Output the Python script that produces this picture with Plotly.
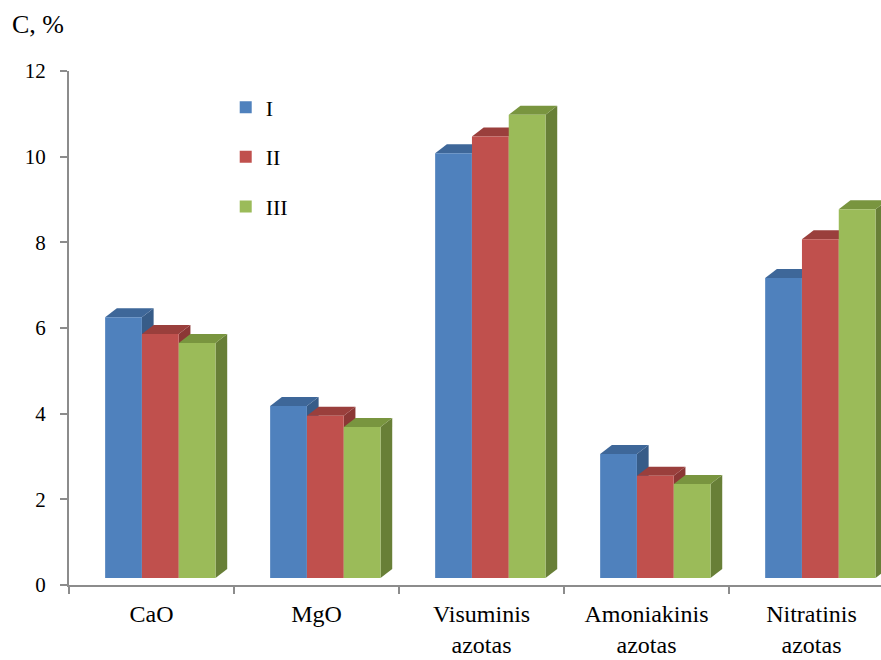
import plotly.graph_objects as go

# Content of elements, % (three variants)
categories = ["CaO", "MgO", "Visuminis<br>azotas", "Amoniakinis<br>azotas", "Nitratinis<br>azotas"]
series_names = ["I", "II", "III"]
values_I = [6.25, 4.18, 10.08, 3.06, 7.17]
values_II = [5.86, 3.95, 10.47, 2.55, 8.07]
values_III = [5.65, 3.69, 10.98, 2.36, 8.77]
y_ticks = [0, 2, 4, 6, 8, 10, 12]

series_values = [values_I, values_II, values_III]

front_colors = ["#4F81BD", "#C0504D", "#9BBB59"]
top_colors = ["#3E6799", "#9A3F3C", "#79953F"]
side_colors = ["#375C88", "#8B3735", "#687F37"]

# 3D column geometry (axis units)
BAR_W = 0.2228
OFFSETS = [-0.281, -0.058, 0.165]
DX = 0.071    # depth shift along x
DY = 0.21     # depth shift along y
FLOOR = 0.164  # lift of the column floor above the value axis origin

AXIS_COLOR = "#8C8C8C"
FONT = "Liberation Serif"

fig = go.Figure()
shapes = []

for k, (name, vals) in enumerate(zip(series_names, series_values)):
    fig.add_trace(go.Bar(
        x=list(range(len(categories))),
        y=[v - FLOOR for v in vals],
        base=FLOOR,
        width=BAR_W,
        offset=OFFSETS[k],
        name=name,
        legendgroup=name,
        marker=dict(color=front_colors[k], line=dict(width=0)),
        hovertext=[f"{v}" for v in vals],
        hoverinfo="text+name",
    ))

# side and top faces, drawn beneath the front faces in back-to-front order
for i in range(len(categories)):
    for k, vals in enumerate(series_values):
        v = vals[i]
        x0 = i + OFFSETS[k]
        x1 = x0 + BAR_W
        side = (f"M{x1},{FLOOR} L{x1},{v} L{x1 + DX},{v + DY} "
                f"L{x1 + DX},{FLOOR + DY} Z")
        top = (f"M{x0},{v} L{x1},{v} L{x1 + DX},{v + DY} "
               f"L{x0 + DX},{v + DY} Z")
        shapes.append(dict(type="path", path=side, xref="x", yref="y",
                           fillcolor=side_colors[k], line=dict(width=0),
                           layer="below"))
        shapes.append(dict(type="path", path=top, xref="x", yref="y",
                           fillcolor=top_colors[k], line=dict(width=0),
                           layer="below"))

fig.update_layout(
    width=881, height=660,
    margin=dict(l=69, r=0, t=71, b=75),
    paper_bgcolor="white",
    plot_bgcolor="white",
    barmode="overlay",
    shapes=shapes,
    font=dict(family=FONT, color="#000000"),
    title=dict(
        text="C, %",
        x=12 / 881, xanchor="left", xref="container",
        y=1 - 15 / 660, yanchor="top", yref="container",
        font=dict(size=26, family=FONT, color="#000000"),
    ),
    legend=dict(
        x=0.193, y=0.97, xanchor="left", yanchor="top",
        font=dict(size=22, family=FONT),
        tracegroupgap=18,
        traceorder="grouped",
        bgcolor="rgba(0,0,0,0)",
    ),
    xaxis=dict(
        range=[-0.5, 4.421],
        automargin=False,
        tickmode="array",
        tickvals=list(range(len(categories))),
        ticktext=categories,
        ticks="",
        ticklabelstandoff=6,
        showgrid=False,
        zeroline=False,
        showline=True,
        linecolor=AXIS_COLOR,
        linewidth=2,
        tickfont=dict(size=24, family=FONT, color="#000000"),
        minor=dict(
            tickmode="array",
            tickvals=[j - 0.5 for j in range(len(categories) + 1)],
            ticks="outside",
            ticklen=7,
            tickwidth=2,
            tickcolor=AXIS_COLOR,
            showgrid=False,
        ),
    ),
    yaxis=dict(
        range=[0, 12],
        automargin=False,
        tickmode="array",
        tickvals=y_ticks,
        ticks="outside",
        ticklen=7,
        tickwidth=2,
        tickcolor=AXIS_COLOR,
        ticklabelstandoff=10,
        showgrid=False,
        zeroline=False,
        showline=True,
        linecolor=AXIS_COLOR,
        linewidth=2,
        tickfont=dict(size=21, family=FONT, color="#000000"),
    ),
)

fig.write_html("out.html")
